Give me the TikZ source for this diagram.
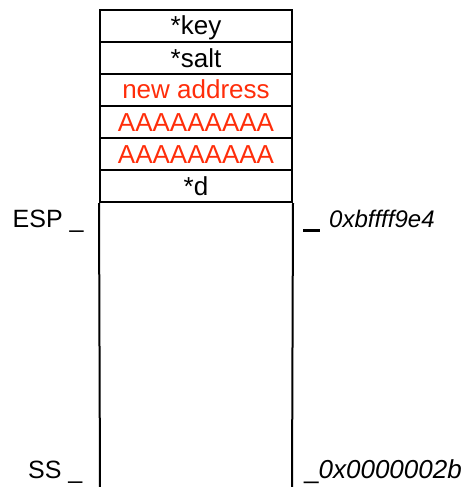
\documentclass[tikz,border=0pt]{standalone}
\usepackage{fontspec}
\setmainfont{Liberation Sans}
\definecolor{ovr}{RGB}{255,45,10}
\begin{document}
\begin{tikzpicture}[x=1pt,y=-1pt,
  cell/.style={draw,line width=2pt,minimum width=192pt,minimum height=32pt,inner sep=0pt,
    text height=22pt,text depth=4pt,font=\fontsize{26}{30}\selectfont},
  red cell/.style={cell,text=ovr},
  lab/.style={anchor=base west,inner sep=0pt,font=\fontsize{25}{30}\selectfont},
  wall/.style={line width=2pt}]
\useasboundingbox (0,0) rectangle (467,487);
\node[cell] (key) at (196,26) {*key};
\node[cell] (salt) at (196,58) {*salt};
\node[red cell] (addr) at (196,90) {new address};
\node[red cell] (a1) at (196,122) {AAAAAAAAA};
\node[red cell] (a2) at (196,154) {AAAAAAAAA};
\node[cell] (d) at (196,186) {*d};
\coordinate (bl) at (100,490);
\coordinate (br) at (292,490);
\draw[wall] (d.south west) -- (bl);
\draw[wall] (d.south east) -- (br);
\node[lab] (esp) at (12.5,227) {ESP \_};
\node[lab] (espbar) at (303,227) {\rule[-4.6pt]{16.5pt}{2.7pt}};
\node[lab,font=\fontsize{24}{30}\selectfont] (espaddr) at (329,227) {\textit{0xbffff9e4}};
\node[lab] (ss) at (28,478) {SS \_};
\node[lab,font=\fontsize{26}{30}\selectfont] (ssaddr) at (304,478) {\_\textit{0x0000002b}};
\end{tikzpicture}
\end{document}
